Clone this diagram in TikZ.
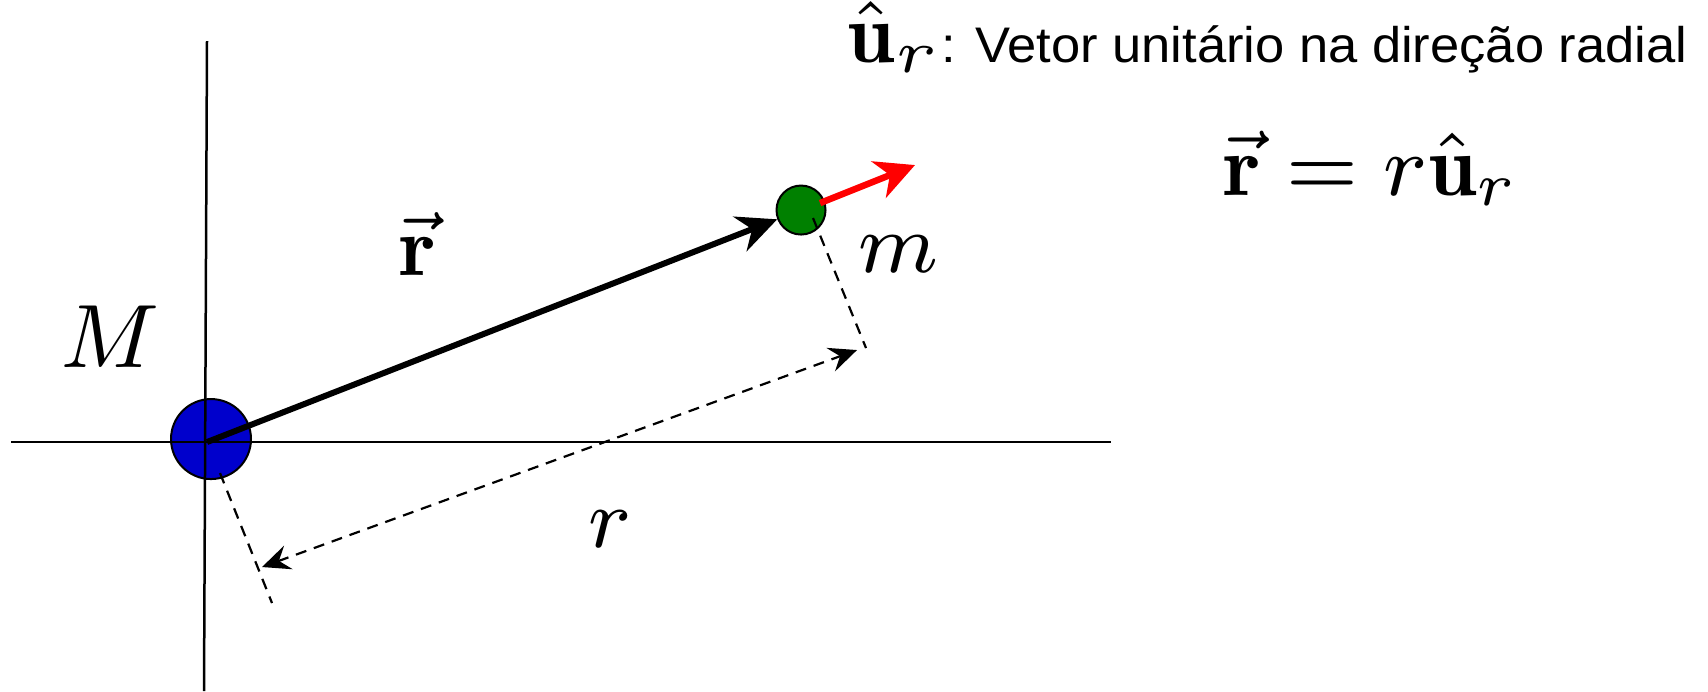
\RequirePackage{fix-cm}
\documentclass[tikz,border=0pt]{standalone}
\usepackage{fontspec}
\setsansfont{Liberation Sans}
\usetikzlibrary{arrows.meta}
\begin{document}
\begin{tikzpicture}[x=0.1pt,y=-0.1pt,
  axis/.style={line width=0.25pt},
  mass/.style={circle, draw, line width=0.2pt, inner sep=0pt},
  vecarrow/.style={line width=0.6pt, -{Stealth[length=4pt,width=3.7pt,inset=1.3pt]}},
  unitarrow/.style={red, line width=0.65pt, -{Stealth[length=3.9pt,width=3.9pt,inset=1.2pt]}},
  guide/.style={line width=0.22pt, dash pattern=on 1.1pt off 0.8pt},
  dimline/.style={guide, {Stealth[length=2.8pt,width=2.5pt,inset=1pt]}-{Stealth[length=2.8pt,width=2.5pt,inset=1pt]}},
  mathlabel/.style={inner sep=0pt, font=\fontsize{8.5}{10}\selectfont}]
\useasboundingbox (0,0) rectangle (1708,691);
% masses
\node[mass, fill=blue!80!black, minimum size=8pt] (Mb) at (211,439) {};
\node[mass, fill=green!50!black, minimum size=4.9pt] (mb) at (801,210) {};
% axes
\coordinate (xl) at (11,442);
\coordinate (xr) at (1111,442);
\coordinate (yt) at (207,41);
\coordinate (yb) at (204,691);
\coordinate (O) at (207,442);
\draw[axis] (xl) -- (xr);
\draw[axis] (yt) -- (yb);
% position vector
\draw[vecarrow] (O) -- (mb);
% unit vector
\coordinate (u0) at (820,203);
\coordinate (u1) at (915,165);
\draw[unitarrow] (u0) -- (u1);
% guides
\coordinate (g1a) at (813,218);
\coordinate (g1b) at (866,348);
\coordinate (g2a) at (220,473);
\coordinate (g2b) at (272,603);
\draw[guide] (g1a) -- (g1b);
\draw[guide] (g2a) -- (g2b);
\coordinate (d1) at (262,567);
\coordinate (d2) at (857,350);
\draw[dimline] (d1) -- (d2);
% labels
\node[mathlabel, anchor=base] (rvec) at (418,275) {$\vec{\mathbf r}$};
\node[mathlabel, anchor=base] (rlab) at (610,547) {$r$};
\node[mathlabel, anchor=base] (mlab) at (898,272) {$m$};
\node[mathlabel, anchor=base, font=\fontsize{9}{11}\selectfont] (Mlab) at (110,367) {$M$};
\node[mathlabel, anchor=base, font=\fontsize{8.7}{10}\selectfont] (eq) at (1371,195) {$\vec{\mathbf r} = r\hat{\mathbf u}_r$};
\node[anchor=base west, inner sep=0pt] (def) at (845,62)
  {{\fontsize{8.5}{10}\selectfont$\hat{\mathbf u}_r$}\scalebox{1.05}[1]{\fontsize{5}{6}\selectfont\sffamily: Vetor unitário na direção radial}};
\end{tikzpicture}
\end{document}
